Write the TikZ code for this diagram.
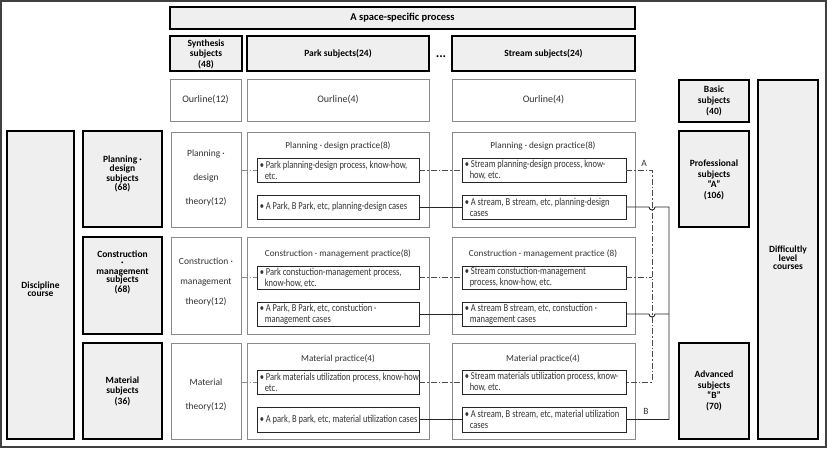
\documentclass[tikz,border=0pt]{standalone}
\usepackage{fontspec}
\setmainfont{Carlito}
\newfontfamily\condfont{Carlito}[FakeStretch=0.8]
\definecolor{boxgray}{HTML}{EFEFEF}
\definecolor{txtc}{HTML}{333333}
\definecolor{lgray}{HTML}{8A8A8A}
\newcommand\bx[7]{\node[#6, minimum width={#4-#2}, minimum height={#5-#3}] (#1) at ({(#2+#4)/2},{(#3+#5)/2}) {#7};}
\tikzset{
  x=1pt, y=-1pt,
  every node/.style={font=\fontsize{9}{11}\selectfont, text=txtc, inner sep=0pt},
  thickbox/.style={draw=black, line width=2pt, fill=boxgray, align=center, text=black},
  graybox/.style={draw=lgray, line width=1pt, fill=white, align=center},
  olbox/.style={graybox, font=\fontsize{10}{11}\selectfont},
  itembox/.style={draw=black!85, line width=0.9pt, fill=white},
  itemtext/.style={align=left, anchor=west, font=\condfont\fontsize{10.6}{11}\selectfont},
  bt/.style={font=\bfseries\fontsize{9.5}{#1}\selectfont, align=center, text=black},
  th/.style={font=\fontsize{9.5}{#1}\selectfont, align=center},
  pt/.style={font=\fontsize{9.2}{11}\selectfont},
  dd/.style={line width=0.8pt, dash pattern=on 6pt off 2pt on 1.5pt off 2pt},
  conn/.style={line width=0.9pt, draw=black!85},
}
\begin{document}
\begin{tikzpicture}
\useasboundingbox (0,0) rectangle (827,448);
\draw[draw=black!75, line width=1.2pt] (1,1) rectangle (826,447);
% header
\bx{hdr}{170}{7}{635}{29}{thickbox}{}
\node[bt=11, font=\bfseries\fontsize{10.5}{11}\selectfont] (hdrt) at (hdr.center) {A space-specific process};
\bx{syn}{170}{36}{242}{71}{thickbox}{}
\node[bt=10.5] (synt) at (206,54) {Synthesis\\subjects\\(48)};
\bx{park}{247}{36}{429}{71}{thickbox}{}
\node[bt=11] (parkt) at (park.center) {Park subjects(24)};
\node[font=\bfseries\fontsize{13}{13}\selectfont, text=black] (dots) at (441,57) {...};
\bx{strm}{452}{36}{635}{71}{thickbox}{}
\node[bt=11] (strmt) at (strm.center) {Stream subjects(24)};
% outline row
\bx{ol1}{170}{79}{241}{121}{olbox}{Ourline(12)}
\bx{ol2}{247}{79}{429}{121}{olbox}{Ourline(4)}
\bx{ol3}{452}{79}{635}{121}{olbox}{Ourline(4)}
% right side
\bx{basic}{679}{80}{749}{122}{thickbox}{}
\node[bt=11] (basict) at (714,101) {Basic\\subjects\\(40)};
\bx{diff}{758}{80}{818}{439}{thickbox}{}
\node[bt=8.5] (difft) at (788,258) {Difficultly\\level\\courses};
\bx{prof}{679}{131}{749}{227}{thickbox}{}
\node[bt=10.5] (proft) at (714,180) {Professional\\subjects\\``A''\\(106)};
\bx{adv}{679}{343}{749}{439}{thickbox}{}
\node[bt=10.5] (advt) at (714,391) {Advanced\\subjects\\``B''\\(70)};
% left side
\bx{disc}{7}{131}{74}{439}{thickbox}{}
\node[bt=8.5] (disct) at (40.5,289) {Discipline\\course};
\bx{sub1}{83}{131}{162}{227}{thickbox}{}
\node[bt=7.5] (sub1t) at (122.5,174) {Planning ·\\design\\subjects\\(68)};
\bx{sub2}{83}{237}{162}{334}{thickbox}{}
\node[bt=8.5] (sub2t) at (122.5,272) {Construction\\·\\management\\subjects\\(68)};
\bx{sub3}{83}{343}{162}{439}{thickbox}{}
\node[bt=10.5] (sub3t) at (122.5,391) {Material\\subjects\\(36)};
% theory boxes
\bx{th1}{171}{132}{241}{227}{graybox}{}
\node[th=24] (th1t) at (206,178) {Planning ·\\design\\theory(12)};
\bx{th2}{171}{237}{241}{334}{graybox}{}
\node[th=20] (th2t) at (206,282) {Construction ·\\management\\theory(12)};
\bx{th3}{171}{343}{241}{439}{graybox}{}
\node[th=24] (th3t) at (206,395) {Material\\theory(12)};
% practice boxes
\bx{pp1}{247}{132}{429}{227}{graybox}{}
\bx{pp2}{247}{237}{429}{334}{graybox}{}
\bx{pp3}{247}{343}{429}{439}{graybox}{}
\bx{sp1}{452}{132}{635}{227}{graybox}{}
\bx{sp2}{452}{237}{635}{334}{graybox}{}
\bx{sp3}{452}{343}{635}{439}{graybox}{}
\node[pt] (pp1t) at (338,146) {Planning · design practice(8)};
\node[pt] (pp2t) at (338,254) {Construction · management practice(8)};
\node[pt] (pp3t) at (338,359) {Material practice(4)};
\node[pt] (sp1t) at (543,146) {Planning · design practice(8)};
\node[pt] (sp2t) at (543,254) {Construction · management practice (8)};
\node[pt] (sp3t) at (543,359) {Material practice(4)};
% item boxes
\bx{p11}{257}{158}{419}{182}{itembox}{}
\bx{p12}{257}{195}{419}{219}{itembox}{}
\bx{p21}{257}{266}{419}{289}{itembox}{}
\bx{p22}{257}{302}{419}{326}{itembox}{}
\bx{p31}{257}{370}{419}{394}{itembox}{}
\bx{p32}{257}{407}{419}{432}{itembox}{}
\bx{s11}{462}{158}{626}{182}{itembox}{}
\bx{s12}{462}{195}{626}{219}{itembox}{}
\bx{s21}{462}{266}{626}{289}{itembox}{}
\bx{s22}{462}{302}{626}{326}{itembox}{}
\bx{s31}{462}{370}{626}{394}{itembox}{}
\bx{s32}{462}{407}{626}{432}{itembox}{}
\node[itemtext] (p11t) at ([xshift=3pt]p11.west) {• Park planning-design process, know-how,\\\hspace*{5pt}etc.};
\node[itemtext] (p12t) at ([xshift=3pt]p12.west) {• A Park, B Park, etc, planning-design cases};
\node[itemtext] (p21t) at ([xshift=3pt]p21.west) {• Park constuction-management process,\\\hspace*{5pt}know-how, etc.};
\node[itemtext] (p22t) at ([xshift=3pt]p22.west) {• A Park, B Park, etc, constuction ·\\\hspace*{5pt}management cases};
\node[itemtext] (p31t) at ([xshift=3pt]p31.west) {• Park materials utilization process, know-how,\\\hspace*{5pt}etc.};
\node[itemtext] (p32t) at ([xshift=3pt]p32.west) {• A park, B park, etc, material utilization cases};
\node[itemtext] (s11t) at ([xshift=3pt]s11.west) {• Stream planning-design process, know-\\\hspace*{5pt}how, etc.};
\node[itemtext] (s12t) at ([xshift=3pt]s12.west) {• A stream, B stream, etc, planning-design\\\hspace*{5pt}cases};
\node[itemtext] (s21t) at ([xshift=3pt]s21.west) {• Stream constuction-management\\\hspace*{5pt}process, know-how, etc.};
\node[itemtext] (s22t) at ([xshift=3pt]s22.west) {• A stream B stream, etc, constuction ·\\\hspace*{5pt}management cases};
\node[itemtext] (s31t) at ([xshift=3pt]s31.west) {• Stream materials utilization process, know-\\\hspace*{5pt}how, etc.};
\node[itemtext] (s32t) at ([xshift=3pt]s32.west) {• A stream, B stream, etc, material utilization\\\hspace*{5pt}cases};
% connectors
\coordinate (Ax) at (652,0);
\coordinate (Bx) at (669,0);
\coordinate (hop) at (649,0);
\foreach \r in {1,2,3}{
  \draw[dd, draw=lgray] (th\r.east |- p\r1.west) -- (p\r1.west);
  \draw[dd, draw=black!70] (p\r1.east) -- (s\r1.west);
  \draw[conn] (p\r2.east) -- (s\r2.west);
}
\draw[dd, draw=black!70] (s11.east) -| (Ax |- s31.east) -- (s31.east);
\draw[dd, draw=black!70] (s21.east) -- (s21.east -| Ax);
\draw[conn] (s12.east) -- (s12.east -| hop) arc[start angle=180, end angle=360, radius=3pt] -| (Bx |- s32.east) -- (s32.east);
\draw[conn] (s22.east) -- (s22.east -| hop) arc[start angle=180, end angle=360, radius=3pt] -- (s22.east -| Bx);
\node[font=\fontsize{9.5}{11}\selectfont] (lblA) at (644,163) {A};
\node[font=\fontsize{9.5}{11}\selectfont] (lblB) at (646,411) {B};
\end{tikzpicture}
\end{document}
